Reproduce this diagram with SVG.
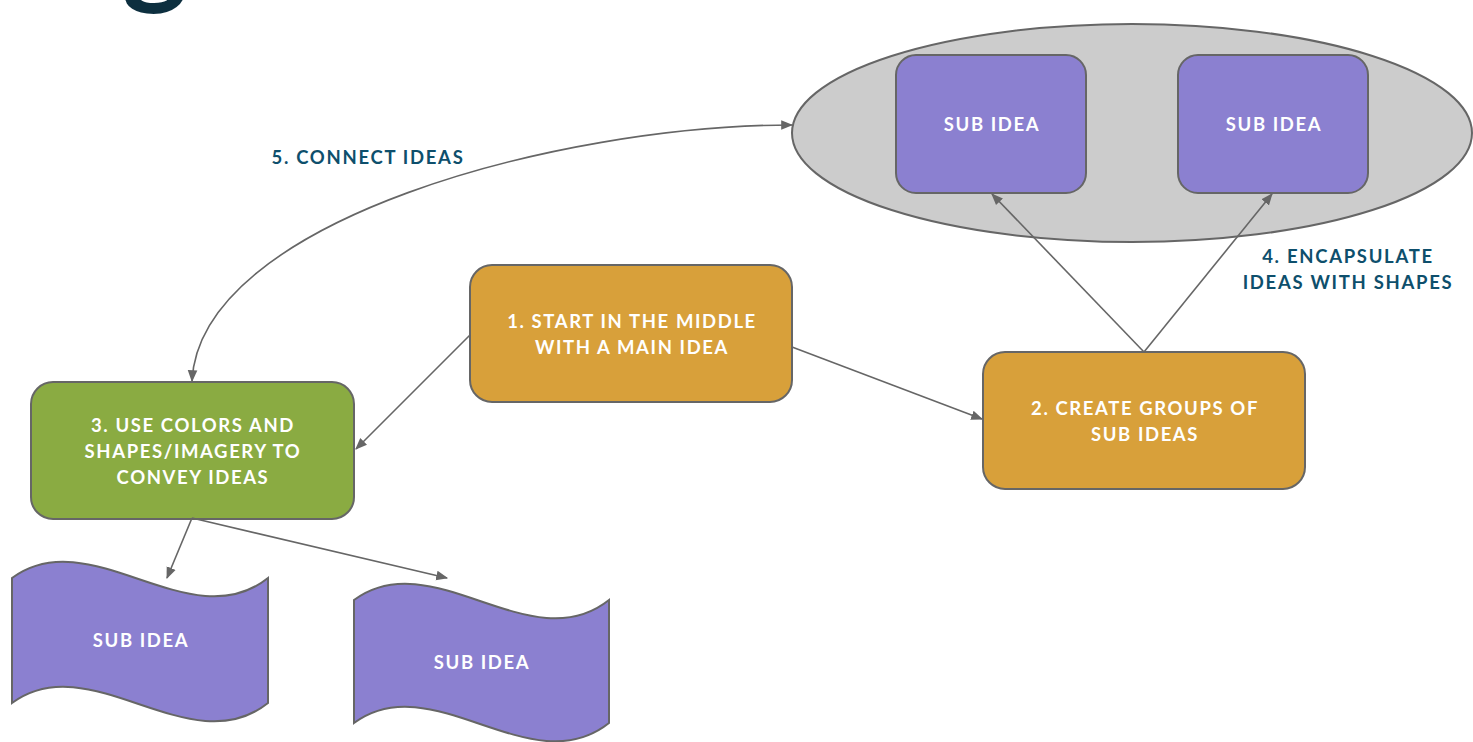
<svg xmlns="http://www.w3.org/2000/svg" width="1473" height="742" viewBox="0 0 1473 742">
<style>
.node{stroke:#666666;stroke-width:2}
.purple{fill:#8b80d0}
.orange{fill:#d8a03a}
.green{fill:#8aab42}
.ntxt{font-family:Lato,"Liberation Sans",sans-serif;font-weight:700;font-size:18.5px;letter-spacing:1.6px;fill:#ffffff;text-anchor:middle}
.lbl{font-family:Lato,"Liberation Sans",sans-serif;font-weight:700;font-size:18.5px;letter-spacing:1.7px;fill:#0e4f6c;text-anchor:middle}
.conn{fill:none;stroke:#666666;stroke-width:1.6}
</style>
<defs>
<marker id="ahb" viewBox="0 0 10 10" refX="9" refY="5" markerWidth="12" markerHeight="12" orient="auto-start-reverse" markerUnits="userSpaceOnUse">
<path d="M0,1 L10,5 L0,9 z" fill="#666666"/>
</marker>
</defs>
<rect width="1473" height="742" fill="#ffffff"/>
<text x="155" y="-9" text-anchor="middle" font-family="Lato,'Liberation Sans',sans-serif" font-weight="700" font-size="125" fill="#0d2f3f">g</text>

<g id="group-ellipse">
<ellipse class="node" cx="1132" cy="133" rx="340" ry="109" fill="#cccccc"/>
</g>
<g id="sub-idea-1">
<rect class="node purple" x="896" y="55" width="190" height="138" rx="20"/>
<text class="ntxt" x="992" y="131">SUB IDEA</text>
</g>
<g id="sub-idea-2">
<rect class="node purple" x="1178" y="55" width="190" height="138" rx="20"/>
<text class="ntxt" x="1274" y="131">SUB IDEA</text>
</g>
<g id="main-idea">
<rect class="node orange" x="470" y="265" width="322" height="137" rx="22"/>
<text class="ntxt" x="632" y="328">1. START IN THE MIDDLE</text>
<text class="ntxt" x="632" y="354">WITH A MAIN IDEA</text>
</g>
<g id="groups">
<rect class="node orange" x="983" y="352" width="322" height="137" rx="22"/>
<text class="ntxt" x="1145" y="415">2. CREATE GROUPS OF</text>
<text class="ntxt" x="1145" y="441">SUB IDEAS</text>
</g>
<g id="colors">
<rect class="node green" x="31" y="382" width="323" height="137" rx="22"/>
<text class="ntxt" x="193" y="432">3. USE COLORS AND</text>
<text class="ntxt" x="193" y="458">SHAPES/IMAGERY TO</text>
<text class="ntxt" x="193" y="484">CONVEY IDEAS</text>
</g>
<g id="wave-1">
<path class="node purple" d="M12,578 C90,520 190,640 268,578 L268,703 C190,765 90,645 12,703 Z"/>
<text class="ntxt" x="141" y="647">SUB IDEA</text>
</g>
<g id="wave-2">
<path class="node purple" d="M354,600 C432,542 531,662 609,600 L609,723 C531,785 432,665 354,723 Z"/>
<text class="ntxt" x="482" y="669">SUB IDEA</text>
</g>
<g id="label-5">
<text class="lbl" x="368" y="164">5. CONNECT IDEAS</text>
</g>
<g id="label-4">
<text class="lbl" x="1348" y="263">4. ENCAPSULATE</text>
<text class="lbl" x="1348" y="289">IDEAS WITH SHAPES</text>
</g>

<g id="connectors">
<path class="conn" d="M192,381 C200,220 560,125 792,125" marker-start="url(#ahb)" marker-end="url(#ahb)"/>
<path class="conn" d="M470,335 L356,449" marker-end="url(#ahb)"/>
<path class="conn" d="M792,347 L982,419" marker-end="url(#ahb)"/>
<path class="conn" d="M1144,352 L992,194" marker-end="url(#ahb)"/>
<path class="conn" d="M1144,352 L1272,194" marker-end="url(#ahb)"/>
<path class="conn" d="M192,518 L167,578" marker-end="url(#ahb)"/>
<path class="conn" d="M192,518 L447,578" marker-end="url(#ahb)"/>
</g>
</svg>
